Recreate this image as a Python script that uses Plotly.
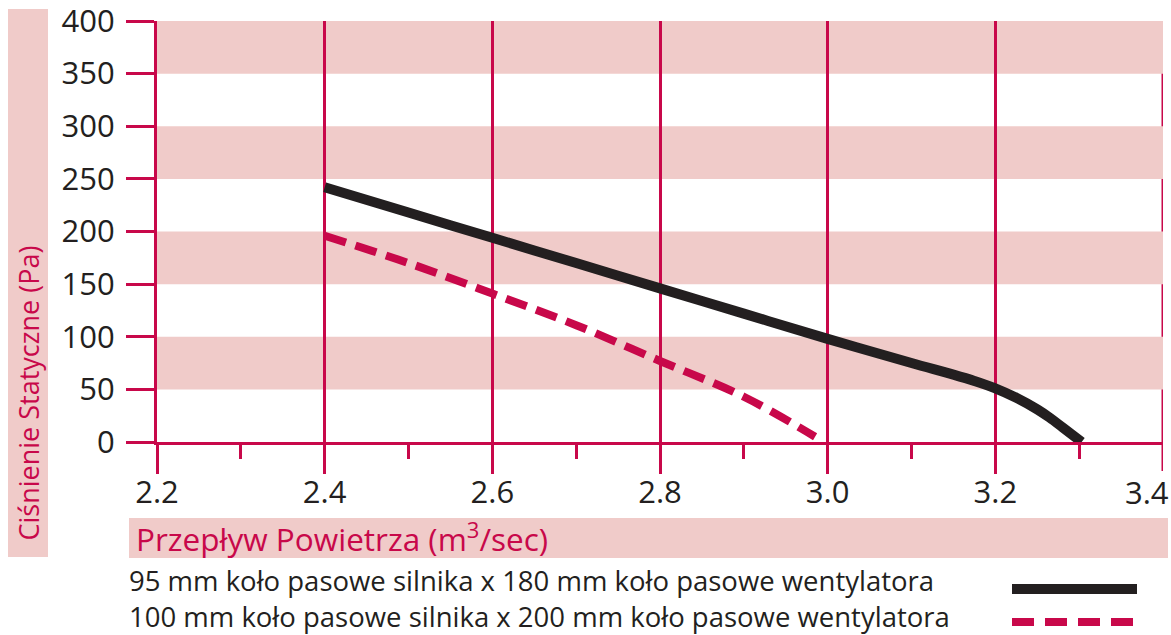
import plotly.graph_objects as go

# ---------------- data ----------------
x_black = [2.40, 2.50, 2.60, 2.70, 2.80, 2.90, 3.00, 3.10, 3.15, 3.175, 3.20, 3.225, 3.25, 3.265, 3.28, 3.303]
y_black = [242, 218, 194, 170, 146, 122, 98, 75, 64, 58, 51, 42, 31, 23, 14, 0]

x_red = [2.40, 2.50, 2.60, 2.70, 2.80, 2.90, 2.985]
y_red = [196, 170, 141, 111, 77, 43, 5]

series_names = [
    "95 mm koło pasowe silnika x 180 mm koło pasowe wentylatora",
    "100 mm koło pasowe silnika x 200 mm koło pasowe wentylatora",
]
x_title = "Przepływ Powietrza (m<sup>3</sup>/sec)"
y_title = "Ciśnienie Statyczne (Pa)"
x_ticks = [2.2, 2.4, 2.6, 2.8, 3.0, 3.2, 3.4]
x_ticklabels = ["2.2", "2.4", "2.6", "2.8", "3.0", "3.2", "3.4"]
x_minor = [2.3, 2.5, 2.7, 2.9, 3.1, 3.3]
y_ticks = [0, 50, 100, 150, 200, 250, 300, 350, 400]
band_ranges = [(50, 100), (150, 200), (250, 300), (350, 400)]

# ---------------- style ----------------
W, H = 1171, 635
ML, MR, MT, MB = 157, 8, 21, 193
CRIMSON = "#c8084a"
PINK = "#f0cbc9"
DARK = "#231f20"
FONT = "Open Sans"
TICK_SIZE = 31
MAJOR_TICKLEN = 29

PW = W - ML - MR
PH = H - MT - MB


def px_x(px):
    return (px - ML) / PW


def px_y(py):
    return (H - MB - py) / PH


fig = go.Figure()

fig.add_trace(go.Scatter(
    x=x_black, y=y_black, mode="lines", name=series_names[0],
    line=dict(color=DARK, width=10, shape="spline", smoothing=1.0),
    showlegend=False,
))
fig.add_trace(go.Scatter(
    x=x_red, y=y_red, mode="lines", name=series_names[1],
    line=dict(color=CRIMSON, width=8, dash="22px,10px", shape="spline", smoothing=1.0),
    showlegend=False,
))

shapes = []
for y0, y1 in band_ranges:
    shapes.append(dict(type="rect", xref="x", yref="y", x0=x_ticks[0], x1=x_ticks[-1],
                       y0=y0, y1=y1, fillcolor=PINK, line=dict(width=0), layer="below"))
# right-most vertical grid line + its tick (plotly omits the grid line on the plot edge)
shapes.append(dict(type="line", xref="x", yref="paper", x0=x_ticks[-1], x1=x_ticks[-1],
                   y0=-MAJOR_TICKLEN / PH, y1=1, line=dict(color=CRIMSON, width=3), layer="between"))
# y title band
shapes.append(dict(type="rect", xref="paper", yref="paper", x0=px_x(8), x1=px_x(48),
                   y0=px_y(557), y1=px_y(9), fillcolor=PINK, line=dict(width=0), layer="below"))
# x title band
shapes.append(dict(type="rect", xref="paper", yref="paper", x0=px_x(129), x1=px_x(1168),
                   y0=px_y(558), y1=px_y(518), fillcolor=PINK, line=dict(width=0), layer="below"))
# legend samples
shapes.append(dict(type="line", xref="paper", yref="paper", x0=px_x(1012), x1=px_x(1137),
                   y0=px_y(589), y1=px_y(589), line=dict(color=DARK, width=10)))
shapes.append(dict(type="line", xref="paper", yref="paper", x0=px_x(1012), x1=px_x(1140),
                   y0=px_y(622), y1=px_y(622), line=dict(color=CRIMSON, width=8, dash="22px,11px")))

annotations = [
    # last x tick label sits against the right edge, pulled left as in the original
    dict(text=x_ticklabels[-1], xref="x", yref="paper", x=x_ticks[-1], y=px_y(492),
         xanchor="right", yanchor="middle", xshift=8, showarrow=False,
         font=dict(family=FONT, size=TICK_SIZE, color=DARK)),
    dict(text=x_title, xref="paper", yref="paper", x=px_x(134), y=px_y(537),
         xanchor="left", yanchor="middle", showarrow=False,
         font=dict(family=FONT, size=31.5, color=CRIMSON)),
    dict(text=y_title, xref="paper", yref="paper", x=px_x(28), y=px_y(543),
         xanchor="center", yanchor="bottom", textangle=-90, showarrow=False,
         font=dict(family=FONT, size=27, color=CRIMSON)),
    dict(text=series_names[0] + "<br>" + series_names[1], xref="paper", yref="paper",
         x=px_x(127), y=px_y(598.5), xanchor="left", yanchor="middle", align="left",
         showarrow=False, font=dict(family=FONT, size=27.5, color=DARK)),
]

fig.update_layout(
    width=W, height=H, autosize=False,
    margin=dict(l=ML, r=MR, t=MT, b=MB, pad=0, autoexpand=False),
    paper_bgcolor="white", plot_bgcolor="white",
    shapes=shapes, annotations=annotations,
    showlegend=False,
    xaxis=dict(
        range=[x_ticks[0], x_ticks[-1]], tickvals=x_ticks[:-1],
        ticktext=x_ticklabels[:-1],
        showgrid=True, gridcolor=CRIMSON, gridwidth=3,
        showline=True, linecolor=CRIMSON, linewidth=3,
        ticks="outside", ticklen=MAJOR_TICKLEN, tickwidth=3, tickcolor=CRIMSON,
        minor=dict(tickvals=x_minor, ticks="outside", ticklen=14,
                   tickwidth=3, tickcolor=CRIMSON, showgrid=False),
        tickfont=dict(family=FONT, size=TICK_SIZE, color=DARK),
        ticklabelstandoff=-8, automargin=False, ticklabeloverflow="allow",
        zeroline=False, fixedrange=True,
    ),
    yaxis=dict(
        range=[y_ticks[0], y_ticks[-1]], tickvals=y_ticks,
        showgrid=False,
        showline=True, linecolor=CRIMSON, linewidth=3,
        ticks="outside", ticklen=28, tickwidth=3, tickcolor=CRIMSON,
        tickfont=dict(family=FONT, size=TICK_SIZE, color=DARK),
        ticklabelstandoff=5, automargin=False, ticklabeloverflow="allow",
        zeroline=False, fixedrange=True,
    ),
)

# remove the browser's default 8px body margin so the figure fills the window
fig.write_html("out.html", config={"displayModeBar": False},
               post_script="document.body.style.margin='0px';")
